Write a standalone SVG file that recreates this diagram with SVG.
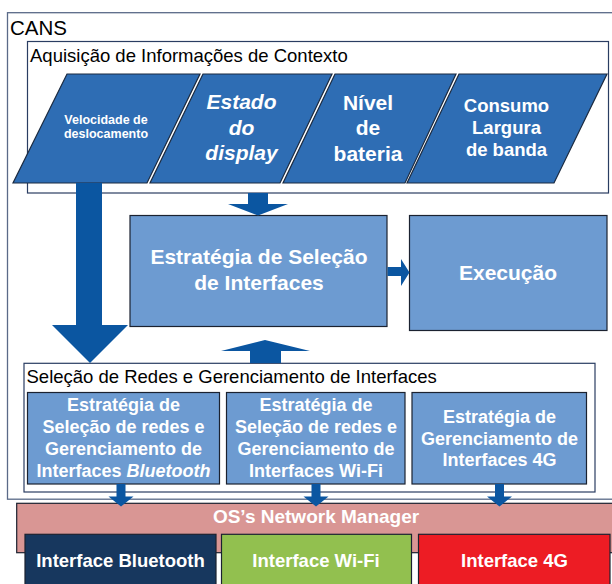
<svg xmlns="http://www.w3.org/2000/svg" width="612" height="584" viewBox="0 0 612 584">
<style>
text{font-family:"Liberation Sans",Arial,sans-serif}
.frame{fill:#fff;stroke:#5A6A88;stroke-width:1.3}
.inner{fill:#fff;stroke:#2A3D62;stroke-width:1.2}
.para{fill:#2E6DB4;stroke:#1B2A40;stroke-width:1.2}
.box{fill:#6D9BD1;stroke:#1B2230;stroke-width:1.2}
.arr{fill:#0B56A1}
.w{fill:#fff;font-weight:bold;text-anchor:middle}
.lbl{fill:#000}
</style>
<g id="cans"><rect class="frame" x="7.5" y="12.7" width="612" height="486.5"/>
<text class="lbl" x="10" y="35" font-size="20.5">CANS</text></g>
<g id="aquisicao"><rect class="inner" x="27.5" y="41.5" width="581" height="151.5"/>
<text class="lbl" x="30" y="61.5" font-size="18.5">Aquisição de Informações de Contexto</text></g>
<g id="velocidade"><polygon class="para" points="67,74 200,74 147,183 13,183"/>
<text class="w" x="106" y="124" font-size="12.5">Velocidade de</text>
<text class="w" x="106" y="138" font-size="12.5">deslocamento</text></g>
<g id="estado"><polygon class="para" points="203,74 332,74 280,183 150,183"/>
<text class="w" x="241.5" y="109" font-size="21" font-style="italic">Estado</text>
<text class="w" x="241.5" y="135" font-size="21" font-style="italic">do</text>
<text class="w" x="241.5" y="160" font-size="21" font-style="italic">display</text></g>
<g id="nivel"><polygon class="para" points="335,74 456,74 405,183 283,183"/>
<text class="w" x="368" y="110" font-size="21">Nível</text>
<text class="w" x="368" y="135" font-size="21">de</text>
<text class="w" x="368" y="161" font-size="21">bateria</text></g>
<g id="consumo"><polygon class="para" points="459,74 607,74 554,183 407,183"/>
<text class="w" x="506.5" y="112" font-size="18.5">Consumo</text>
<text class="w" x="506.5" y="134" font-size="18.5">Largura</text>
<text class="w" x="506.5" y="156" font-size="18.5">de banda</text></g>
<g id="estrategia"><rect class="box" x="130" y="215.5" width="257" height="111"/>
<text class="w" x="259" y="264" font-size="21">Estratégia de Seleção</text>
<text class="w" x="259" y="290" font-size="21">de Interfaces</text></g>
<g id="execucao"><rect class="box" x="409.5" y="215.5" width="197.5" height="115"/>
<text class="w" x="508" y="279.5" font-size="21">Execução</text></g>
<g id="selecao"><rect class="inner" x="24" y="363.3" width="571" height="128.7"/>
<text class="lbl" x="26.5" y="383.3" font-size="18.5">Seleção de Redes e Gerenciamento de Interfaces</text></g>
<g id="sub-bt"><rect class="box" x="27.5" y="392.5" width="192" height="91.5"/>
<text class="w" x="123.5" y="410.5" font-size="18">Estratégia de</text>
<text class="w" x="123.5" y="432.5" font-size="18">Seleção de redes e</text>
<text class="w" x="123.5" y="454.5" font-size="18">Gerenciamento de</text>
<text class="w" x="123.5" y="477" font-size="18">Interfaces <tspan font-style="italic">Bluetooth</tspan></text></g>
<g id="sub-wifi"><rect class="box" x="226.5" y="392.5" width="178.5" height="91.5"/>
<text class="w" x="316" y="410.5" font-size="18">Estratégia de</text>
<text class="w" x="316" y="432.5" font-size="18">Seleção de redes e</text>
<text class="w" x="316" y="454.5" font-size="18">Gerenciamento de</text>
<text class="w" x="316" y="477" font-size="18">Interfaces Wi-Fi</text></g>
<g id="sub-4g"><rect class="box" x="412" y="392.5" width="174.5" height="91.5"/>
<text class="w" x="499.5" y="422.5" font-size="18">Estratégia de</text>
<text class="w" x="499.5" y="444.5" font-size="18">Gerenciamento de</text>
<text class="w" x="499.5" y="466" font-size="18">Interfaces 4G</text></g>
<g id="os"><rect x="16.7" y="503.3" width="603" height="49.4" fill="#D99694" stroke="#1B2230" stroke-width="1.2"/>
<text class="w" x="316" y="522.7" font-size="19">OS’s Network Manager</text></g>
<g id="if-bt"><rect x="25" y="534.3" width="191" height="60" fill="#17375E" stroke="#1B2230" stroke-width="1.2"/>
<text class="w" x="120.5" y="567.3" font-size="18.5">Interface Bluetooth</text></g>
<g id="if-wifi"><rect x="221.5" y="534.3" width="190" height="60" fill="#92C04F" stroke="#1B2230" stroke-width="1.2"/>
<text class="w" x="316" y="567.3" font-size="18.5">Interface Wi-Fi</text></g>
<g id="if-4g"><rect x="418.5" y="534.3" width="191.5" height="60" fill="#ED1C24" stroke="#1B2230" stroke-width="1.2"/>
<text class="w" x="514.5" y="567.3" font-size="18.5">Interface 4G</text></g>
<g id="connectors">
<polygon class="arr" points="76,183 102,183 102,325 128,325 90,363 52,325 76,325"/>
<polygon class="arr" points="248,193 268,193 268,204 288,204 258,215.5 228,204 248,204"/>
<polygon class="arr" points="387.5,267 401,267 401,259 409.5,272.5 401,286 401,276 387.5,276"/>
<polygon class="arr" points="250,363 250,351 221,351 265,340 310,351 281,351 281,363"/>
<polygon class="arr" points="116.5,484 125.5,484 125.5,496.5 133.5,496.5 121,506.5 108.5,496.5 116.5,496.5"/>
<polygon class="arr" points="311.5,484 320.5,484 320.5,496.5 328.5,496.5 316,506.5 303.5,496.5 311.5,496.5"/>
<polygon class="arr" points="495,484 504,484 504,496.5 512,496.5 499.5,506.5 487,496.5 495,496.5"/>
</g>
</svg>
